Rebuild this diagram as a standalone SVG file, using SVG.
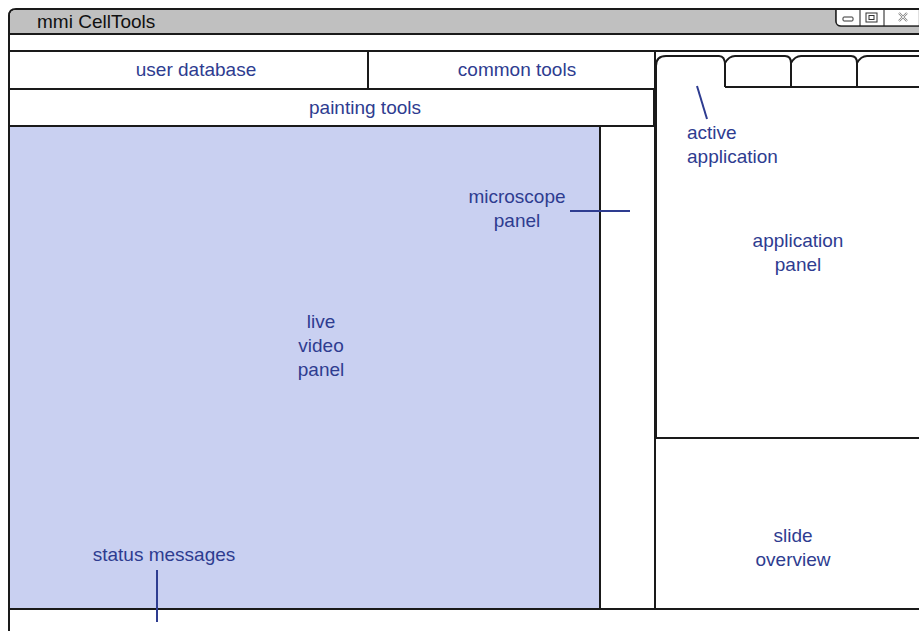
<svg xmlns="http://www.w3.org/2000/svg" width="919" height="631" viewBox="0 0 919 631">
<style>
.ln{fill:none;stroke:#1a1a1a;stroke-width:2}
.bx{fill:#fff;stroke:#1a1a1a;stroke-width:2}
.t{font-family:"Liberation Sans",Arial,sans-serif;font-size:19px;fill:#2e3c90;text-anchor:middle}
.tl{font-family:"Liberation Sans",Arial,sans-serif;font-size:19px;fill:#2e3c90}
.lead{stroke:#2e3c90;stroke-width:2;fill:none}
</style>
<rect width="919" height="631" fill="#fff"/>
<g id="window">
<path d="M9,631 V16 Q9,9 16,9 H925 V631" class="ln"/>
<path d="M10,34 V16 Q10,10 16,10 H919 V34 Z" fill="#c0c0c0"/>
<line x1="9" y1="34" x2="919" y2="34" class="ln"/>
<line x1="9" y1="51" x2="919" y2="51" class="ln"/>
<line x1="9" y1="609" x2="919" y2="609" class="ln"/>
<text x="37" y="28" font-family="'Liberation Sans',Arial,sans-serif" font-size="19" fill="#111">mmi CellTools</text>
</g>
<g id="controls">
<path d="M836,9 V21 Q836,26 841,26 H919" class="ln" style="stroke-width:1.2"/>
<rect x="836.5" y="10" width="82" height="15.5" fill="#fff"/>
<path d="M836,9 V21 Q836,26 841,26 H919" class="ln" style="stroke-width:1.2"/>
<line x1="860" y1="9" x2="860" y2="26" stroke="#1a1a1a" stroke-width="1"/>
<line x1="884" y1="9" x2="884" y2="26" stroke="#1a1a1a" stroke-width="1"/>
<rect x="843" y="17" width="10" height="4" rx="1" fill="none" stroke="#333" stroke-width="1"/>
<rect x="866" y="13" width="11" height="9" fill="none" stroke="#333" stroke-width="1"/>
<rect x="869" y="15.5" width="5" height="4" fill="none" stroke="#333" stroke-width="1"/>
<path d="M899,13 L907,21 M907,13 L899,21" stroke="#888" stroke-width="2.2"/>
<path d="M899,13 L907,21 M907,13 L899,21" stroke="#fff" stroke-width="0.8"/>
</g>
<g id="user-database">
<rect x="9" y="51" width="359" height="38" class="bx"/>
<text x="196" y="76" class="t">user database</text>
</g>
<g id="common-tools">
<rect x="368" y="51" width="287" height="38" class="bx"/>
<text x="517" y="76" class="t">common tools</text>
</g>
<g id="painting-tools">
<rect x="9" y="89" width="645" height="37" class="bx"/>
<text x="365" y="114" class="t">painting tools</text>
</g>
<g id="live-video-panel">
<rect x="9" y="126" width="591" height="483" fill="#c9d0f1" stroke="#1a1a1a" stroke-width="2"/>
<text class="t"><tspan x="321" y="328">live</tspan><tspan x="321" y="352">video</tspan><tspan x="321" y="376">panel</tspan></text>
</g>
<g id="microscope-panel">
<rect x="600" y="126" width="55" height="483" class="bx"/>
<text class="t"><tspan x="517" y="203">microscope</tspan><tspan x="517" y="227">panel</tspan></text>
</g>
<g id="tabs">
<path d="M725,87 V65 Q725,56 719,56 H666 Q656,56 656,66 V438" class="ln"/>
<path d="M725,87 V63 Q729,56 735,56 H785 Q791,56 791,63 V87" class="ln"/>
<path d="M791,63 Q795,56 801,56 H851 Q857,56 857,63 V87" class="ln"/>
<path d="M857,63 Q861,56 867,56 H925" class="ln"/>
<line x1="725" y1="87" x2="919" y2="87" class="ln"/>
<text class="tl"><tspan x="687" y="139">active</tspan><tspan x="687" y="163">application</tspan></text>
</g>
<g id="application-panel">
<line x1="656" y1="438" x2="919" y2="438" class="ln"/>
<text class="t"><tspan x="798" y="247">application</tspan><tspan x="798" y="271">panel</tspan></text>
</g>
<g id="slide-overview">
<line x1="655" y1="438" x2="655" y2="609" class="ln"/>
<text class="t"><tspan x="793" y="542">slide</tspan><tspan x="793" y="566">overview</tspan></text>
</g>
<g id="status-messages">
<text x="164" y="561" class="t">status messages</text>
</g>
<g id="connectors">
<line x1="697" y1="86" x2="707" y2="119" class="lead"/>
<line x1="570" y1="211" x2="630" y2="211" class="lead"/>
<line x1="157" y1="570" x2="157" y2="622" class="lead"/>
</g>
</svg>
